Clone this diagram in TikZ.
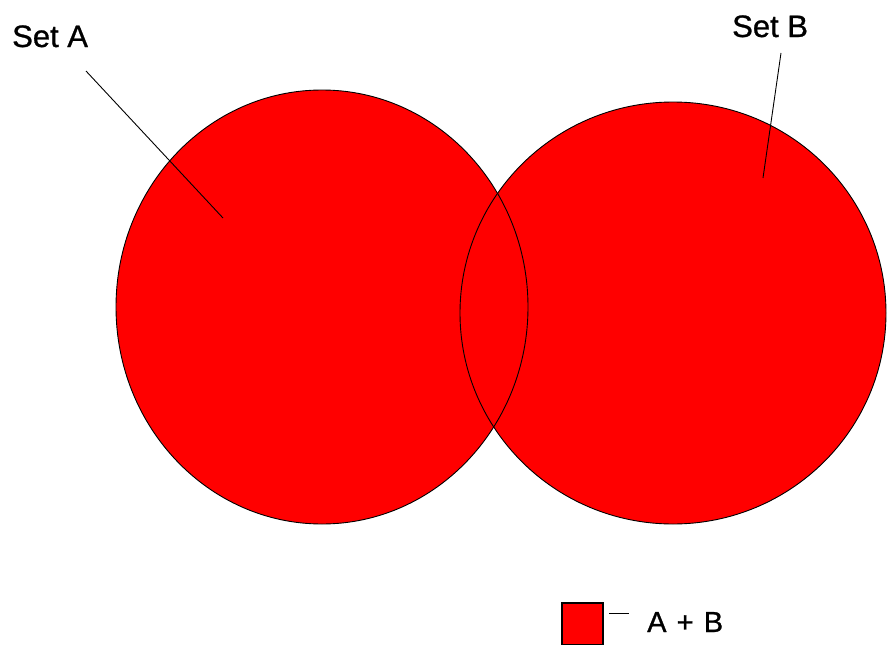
\documentclass[tikz,border=0pt]{standalone}
\usepackage{fontspec}
\setmainfont{Liberation Sans}
\newfontfamily\labelfont[FakeBold=0.9]{Liberation Sans}
\usepackage{tikz}

\tikzset{
  setedge/.style={draw=black,line width=0.9pt},
  leader/.style={draw=black,line width=0.9pt},
  setlabel/.style={inner sep=0pt,anchor=base west,font=\labelfont\fontsize{31}{36}\selectfont},
  keylabel/.style={inner sep=0pt,anchor=base west,font=\labelfont\fontsize{29}{34}\selectfont}
}

\begin{document}
\begin{tikzpicture}[x=1pt,y=-1pt]
\useasboundingbox (0,0) rectangle (887,645);
\clip (0,0) rectangle (887,645);
% the two sets
\fill[red] (322,307) ellipse [x radius=206pt, y radius=217pt];
\fill[red] (673,313) ellipse [x radius=213pt, y radius=211pt];
\draw[setedge] (322,307) ellipse [x radius=206pt, y radius=217pt];
\draw[setedge] (673,313) ellipse [x radius=213pt, y radius=211pt];
% labels with leaders
\node[setlabel] (seta) at (12,47) {Set A};
\coordinate (seta foot) at (86,71);
\coordinate (seta tip) at (223,218);
\draw[leader] (seta foot) -- (seta tip);
\node[setlabel] (setb) at (732,37) {Set B};
\coordinate (setb foot) at (781,53);
\coordinate (setb tip) at (763,178);
\draw[leader] (setb foot) -- (setb tip);
% key
\node[draw=black,fill=red,line width=1.2pt,inner sep=0pt,minimum width=41pt,minimum height=42pt] (keybox) at (582.5,624) {};
\node[keylabel] (keytext) at (647,632) {A\hspace{0.35em}+\hspace{0.35em}B};
\coordinate (dash left) at (609,613);
\coordinate (dash right) at (629,613);
\draw[leader] (dash left) -- (dash right);
\end{tikzpicture}
\end{document}
